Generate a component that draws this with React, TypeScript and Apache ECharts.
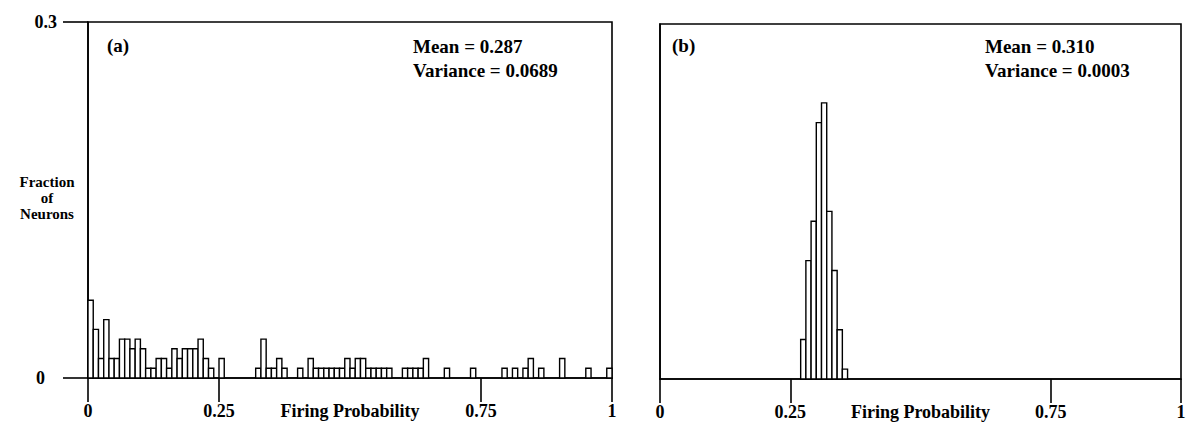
import React, { useEffect, useRef } from "react";
import * as echarts from "echarts";

// Histogram (a): bin starts (width 0.01) and neuron counts per bin
const binWidth = 0.01;
const binStartsA = Array.from({ length: 100 }, (_, i) => i / 100);
const countsA = [
  8, 5, 2, 6, 2, 2, 4, 4, 3, 4,
  3, 1, 1, 2, 2, 1, 3, 2, 3, 3,
  3, 4, 2, 1, 0, 2, 0, 0, 0, 0,
  0, 0, 1, 4, 1, 1, 2, 1, 0, 0,
  1, 0, 2, 1, 1, 1, 1, 1, 1, 2,
  1, 2, 2, 1, 1, 1, 1, 1, 0, 0,
  1, 1, 1, 1, 2, 0, 0, 0, 1, 0,
  0, 0, 0, 1, 0, 0, 0, 0, 0, 1,
  0, 1, 0, 1, 2, 0, 1, 0, 0, 0,
  2, 0, 0, 0, 0, 1, 0, 0, 0, 1,
];
// Histogram (b)
const binStartsB = [0.27, 0.28, 0.29, 0.3, 0.31, 0.32, 0.33, 0.34, 0.35];
const countsB = [4, 12, 16, 26, 28, 17, 11, 5, 1];

const xTickValues = [0, 0.25, 0.75, 1];
const xLabelValues = [0, 0.25, 0.5, 0.75, 1];
const xLabelTexts = ["0", "0.25", "Firing Probability", "0.75", "1"];
const yLabelTexts = ["0", "0.3"];
const statsA = ["Mean = 0.287", "Variance = 0.0689"];
const statsB = ["Mean = 0.310", "Variance = 0.0003"];
const yTitle = ["Fraction", "of", "Neurons"];

const FONT = "'Liberation Serif', 'DejaVu Serif', serif";

function toRows(starts: number[], counts: number[]) {
  const total = counts.reduce((a, b) => a + b, 0);
  return starts
    .map((s, i) => [s, s + binWidth, counts[i] / total])
    .filter((r) => r[2] > 0);
}

export default function App() {
  const ref = useRef<HTMLDivElement>(null);
  useEffect(() => {
    document.body.style.margin = "0";
    const chart = echarts.init(ref.current!, null, { renderer: "svg" });
    const line = { color: "#000", width: 1.6 };
    const xAxisBase = (gridIndex: number) => ({
      gridIndex,
      type: "value",
      min: 0,
      max: 1,
      interval: 0.25,
      splitLine: { show: false },
      axisLine: { show: true, onZero: false, lineStyle: line },
      axisTick: { show: true, length: 24, customValues: xTickValues, lineStyle: line },
      axisLabel: {
        customValues: xLabelValues,
        formatter: (v: number) => xLabelTexts[xLabelValues.indexOf(v)] ?? "",
        margin: 24,
        fontFamily: FONT,
        fontWeight: "bold",
        fontSize: 18,
        color: "#000",
      },
    });
    const renderItem = (params: any, api: any) => {
      const p0 = api.coord([api.value(0), api.value(2)]);
      const p1 = api.coord([api.value(1), 0]);
      return {
        type: "rect",
        shape: { x: p0[0], y: p0[1], width: p1[0] - p0[0], height: p1[1] - p0[1] },
        style: { fill: "#fff", stroke: "#000", lineWidth: 1.4 },
      };
    };
    const textStyle = { fontFamily: FONT, fontWeight: "bold", fontSize: 19, fill: "#000" };
    chart.setOption({
      animation: false,
      grid: [
        { left: 88, top: 22, width: 524, height: 356, show: true, borderColor: "#000", borderWidth: 1.6 },
        { left: 660, top: 24, width: 521, height: 355, show: true, borderColor: "#000", borderWidth: 1.6 },
      ],
      xAxis: [xAxisBase(0), xAxisBase(1)],
      yAxis: [
        {
          gridIndex: 0,
          type: "value",
          min: 0,
          max: 0.3,
          interval: 0.3,
          splitLine: { show: false },
          axisLine: { show: true, lineStyle: line },
          axisTick: { show: true, length: 25, lineStyle: line },
          axisLabel: {
            formatter: (v: number) => (Math.abs(v) < 1e-9 ? "{z|" + yLabelTexts[0] + "}" : "{t|" + yLabelTexts[1] + "}"),
            margin: 31,
            color: "#000",
            rich: {
              z: { fontFamily: FONT, fontWeight: "bold", fontSize: 18, padding: [0, 12, 0, 0] },
              t: { fontFamily: FONT, fontWeight: "bold", fontSize: 18 },
            },
          },
        },
        {
          gridIndex: 1,
          type: "value",
          min: 0,
          max: 0.3,
          interval: 0.3,
          splitLine: { show: false },
          axisLine: { show: true, lineStyle: line },
          axisTick: { show: false },
          axisLabel: { show: false },
        },
      ],
      series: [
        {
          type: "custom",
          xAxisIndex: 0,
          yAxisIndex: 0,
          renderItem,
          encode: { x: [0, 1], y: 2 },
          data: toRows(binStartsA, countsA),
          clip: false,
        },
        {
          type: "custom",
          xAxisIndex: 1,
          yAxisIndex: 1,
          renderItem,
          encode: { x: [0, 1], y: 2 },
          data: toRows(binStartsB, countsB),
          clip: false,
        },
      ],
      graphic: [
        { type: "text", left: 107, top: 36, style: { ...textStyle, text: "(a)" } },
        { type: "text", left: 672, top: 36, style: { ...textStyle, text: "(b)" } },
        { type: "text", left: 413, top: 34, style: { ...textStyle, text: statsA.join("\n"), lineHeight: 24 } },
        { type: "text", left: 985, top: 34, style: { ...textStyle, text: statsB.join("\n"), lineHeight: 24 } },
        ...yTitle.map((t, i) => ({
          type: "text",
          x: 47,
          y: 182 + i * 16,
          style: { ...textStyle, fontSize: 15, text: t, align: "center", verticalAlign: "middle" },
        })),
      ],
    });
    return () => chart.dispose();
  }, []);
  return <div ref={ref} style={{ width: 1191, height: 441 }} />;
}
